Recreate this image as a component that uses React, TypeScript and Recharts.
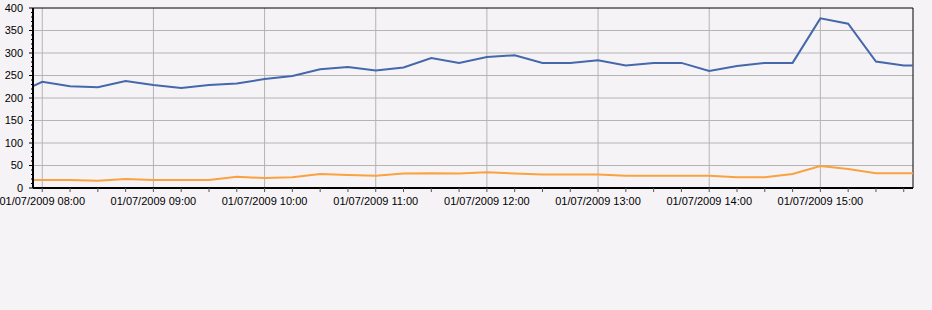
import { LineChart, Line, XAxis, YAxis, CartesianGrid, ReferenceLine } from "recharts";

const fecha = "01/07/2009";

// muestras cada 15 minutos (la primera y la última quedan fuera del área visible)
const horas = [
  "07:45",
  "08:00", "08:15", "08:30", "08:45",
  "09:00", "09:15", "09:30", "09:45",
  "10:00", "10:15", "10:30", "10:45",
  "11:00", "11:15", "11:30", "11:45",
  "12:00", "12:15", "12:30", "12:45",
  "13:00", "13:15", "13:30", "13:45",
  "14:00", "14:15", "14:30", "14:45",
  "15:00", "15:15", "15:30", "15:45",
  "16:00",
];

const serieAzul = [
  207,
  236, 226, 224, 238,
  229, 222, 229, 232,
  242, 249, 264, 269,
  261, 268, 289, 278,
  291, 295, 278, 278,
  284, 272, 278, 278,
  260, 271, 278, 278,
  377, 365, 281, 272,
  273,
];

const serieNaranja = [
  18,
  18, 18, 16, 20,
  18, 18, 18, 25,
  22, 24, 31, 29,
  27, 32, 33, 32,
  35, 32, 30, 30,
  30, 27, 27, 27,
  27, 24, 24, 31,
  49, 42, 33, 33,
  33,
];

const etiquetasHora = ["08:00", "09:00", "10:00", "11:00", "12:00", "13:00", "14:00", "15:00"];
const rangoX = ["07:55", "15:50"];
const etiquetasY = [0, 50, 100, 150, 200, 250, 300, 350, 400];

const aMinutos = (t: string) => {
  const [h, m] = t.split(":").map(Number);
  return h * 60 + m;
};

const data = horas.map((h, i) => ({
  t: aMinutos(h),
  azul: serieAzul[i],
  naranja: serieNaranja[i],
}));

const ticksX = horas.slice(1, -1).map(aMinutos);
const ticksY: number[] = [];
for (let v = 0; v <= 400; v += 10) ticksY.push(v);

const fondo = "#f6f3f7";
const fuente = "'Liberation Sans', Arial, sans-serif";

function TickY({ x, y, payload }: { x: number; y: number; payload: { value: number } }) {
  const v = payload.value;
  const mayor = etiquetasY.includes(v);
  const ejeX = x + 10;
  return (
    <g>
      <line x1={ejeX - (mayor ? 4 : 2)} x2={ejeX} y1={y} y2={y} stroke="#000" />
      {mayor && (
        <text x={x} y={y} dy="0.35em" textAnchor="end" fontSize={11} fill="#000" fontFamily={fuente}>
          {v}
        </text>
      )}
    </g>
  );
}

export default function App() {
  return (
    <div
      style={{
        position: "absolute",
        top: 0,
        left: 0,
        width: 932,
        height: 310,
        background: fondo,
        fontFamily: fuente,
      }}
    >
      <LineChart width={932} height={310} data={data} margin={{ top: 8, right: 19, left: 0, bottom: 92 }}>
        <CartesianGrid
          stroke="#b4b4b4"
          verticalValues={etiquetasHora.map(aMinutos)}
          horizontalValues={etiquetasY.filter((v) => v > 0 && v < 400)}
        />
        <XAxis
          dataKey="t"
          type="number"
          domain={rangoX.map(aMinutos)}
          allowDataOverflow
          ticks={ticksX}
          interval={0}
          height={30}
          tickSize={4}
          tickMargin={5}
          axisLine={{ stroke: "#000", strokeWidth: 2 }}
          tickLine={{ stroke: "#555" }}
          tick={{ fontSize: 11, fill: "#000", fontFamily: fuente }}
          tickFormatter={(m: number) => {
            const hh = String(Math.floor(m / 60)).padStart(2, "0");
            const mm = String(m % 60).padStart(2, "0");
            return mm === "00" ? `${fecha} ${hh}:${mm}` : "";
          }}
        />
        <YAxis
          type="number"
          domain={[0, 400]}
          ticks={ticksY}
          interval={0}
          width={33}
          tickSize={4}
          tickMargin={6}
          tickLine={false}
          axisLine={{ stroke: "#000", strokeWidth: 2 }}
          tick={TickY}
        />
        <ReferenceLine y={400} stroke="#000" strokeWidth={1} />
        <ReferenceLine x={aMinutos(rangoX[1])} stroke="#000" strokeWidth={1} />
        <Line
          type="linear"
          dataKey="azul"
          stroke="#4468ab"
          strokeWidth={2}
          dot={false}
          isAnimationActive={false}
        />
        <Line
          type="linear"
          dataKey="naranja"
          stroke="#f9a23f"
          strokeWidth={2}
          dot={false}
          isAnimationActive={false}
        />
      </LineChart>
    </div>
  );
}
